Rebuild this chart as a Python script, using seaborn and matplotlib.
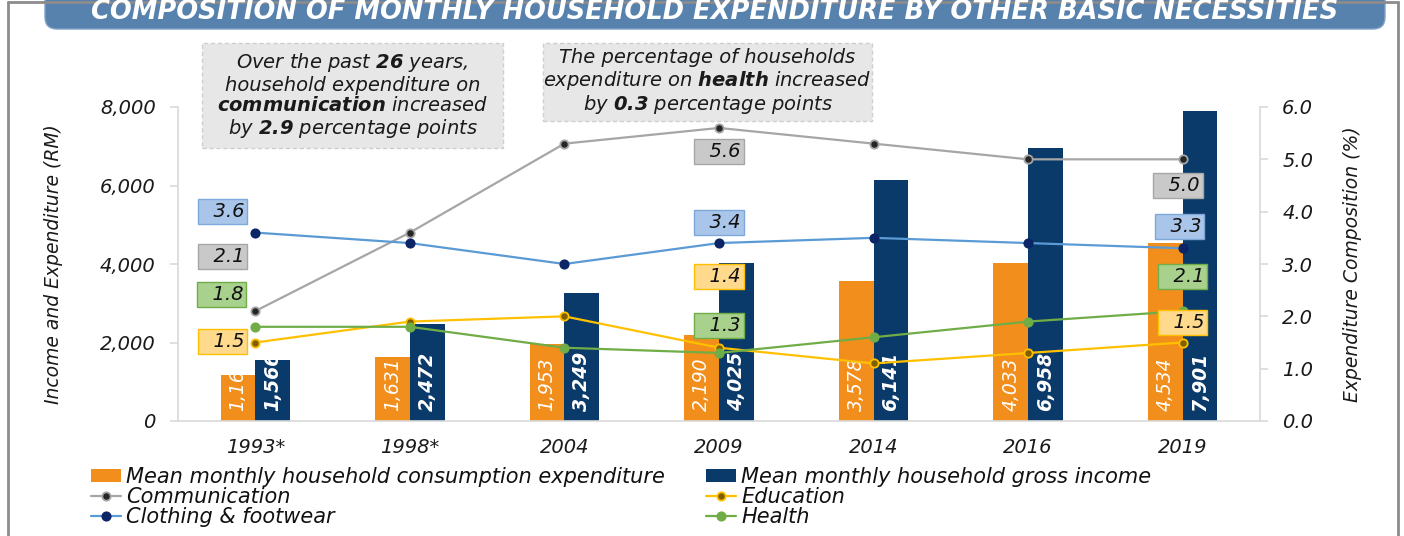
import numpy as np
import pandas as pd
import matplotlib
matplotlib.use("Agg")
import matplotlib.pyplot as plt
import seaborn as sns
from matplotlib.patches import FancyBboxPatch, Rectangle
from matplotlib.lines import Line2D
from matplotlib.ticker import FuncFormatter, FormatStrFormatter, MultipleLocator

# ---------------- data ----------------
years = ["1993*", "1998*", "2004", "2009", "2014", "2016", "2019"]
consumption = [1161, 1631, 1953, 2190, 3578, 4033, 4534]
income = [1566, 2472, 3249, 4025, 6141, 6958, 7901]
communication = [2.1, 3.6, 5.3, 5.6, 5.3, 5.0, 5.0]
education = [1.5, 1.9, 2.0, 1.4, 1.1, 1.3, 1.5]
clothing = [3.6, 3.4, 3.0, 3.4, 3.5, 3.4, 3.3]
health = [1.8, 1.8, 1.4, 1.3, 1.6, 1.9, 2.1]
bar_names = ["Mean monthly household consumption expenditure",
             "Mean monthly household gross income"]
line_names = ["Communication", "Education", "Clothing & footwear", "Health"]
labelled_years = ["1993*", "2009", "2019"]
title = "COMPOSITION OF MONTHLY HOUSEHOLD EXPENDITURE BY OTHER BASIC NECESSITIES"
note1 = ["Over the past $\\mathbf{26}$ years,", "household expenditure on",
         "$\\mathbf{communication}$ increased", "by $\\mathbf{2.9}$ percentage points"]
note2 = ["The percentage of households", "expenditure on $\\mathbf{health}$ increased",
         "by $\\mathbf{0.3}$ percentage points"]
ylabel_left = "Income and Expenditure (RM)"
ylabel_right = "Expenditure Composition (%)"

# ---------------- styles / layout ----------------
bar_colors = ["#F28E1C", "#0A3A69"]
line_style = {
    "Communication": dict(color="#A6A6A6", mfc="#262626", mec="#A6A6A6", box_fc="#C9C9C9", box_ec="#A6A6A6"),
    "Education": dict(color="#FFC000", mfc="#7F6000", mec="#FFC000", box_fc="#FFD98C", box_ec="#FFC000"),
    "Clothing & footwear": dict(color="#5B9BD5", mfc="#0B2566", mec="#0B2566", box_fc="#A9C6EA", box_ec="#7FA8DA"),
    "Health": dict(color="#70AD47", mfc="#70AD47", mec="#70AD47", box_fc="#A9D18E", box_ec="#70AD47"),
}
# value-label box positions (x offset from category, y in %), one per labelled year
label_layout = {
    "Communication": [(-0.21, 3.14), (0.0, 5.15), (-0.03, 4.50)],
    "Clothing & footwear": [(-0.21, 4.00), (0.0, 3.80), (-0.02, 3.71)],
    "Education": [(-0.21, 1.52), (0.0, 2.76), (0.0, 1.89)],
    "Health": [(-0.22, 2.42), (0.0, 1.83), (0.0, 2.76)],
}

sns.set_style("white")
plt.rcParams["font.family"] = ["DejaVu Sans"]
plt.rcParams["font.style"] = "italic"
plt.rcParams["mathtext.fontset"] = "custom"
plt.rcParams["mathtext.bf"] = "DejaVu Sans:bold:italic"
plt.rcParams["mathtext.rm"] = "DejaVu Sans:italic"
plt.rcParams["mathtext.it"] = "DejaVu Sans:italic"

W, H = 1404, 536
fig = plt.figure(figsize=(W / 100, H / 100), dpi=100)
fig.patch.set_facecolor("white")

def fx(px):
    return px / W

def fy(py):
    return 1 - py / H

ax = fig.add_axes([fx(178), fy(421), fx(1260) - fx(178), fy(107) - fy(421)])
ax2 = ax.twinx()

# ---------------- bars ----------------
bar_df = pd.DataFrame({
    "year": years * 2,
    "series": [bar_names[0]] * len(years) + [bar_names[1]] * len(years),
    "value": consumption + income,
})
sns.barplot(data=bar_df, x="year", y="value", hue="series", order=years,
            hue_order=bar_names, palette=bar_colors, saturation=1, width=0.45,
            linewidth=0, ax=ax, legend=False)

for container, vals, wt in zip(ax.containers, [consumption, income], ["normal", "bold"]):
    for bar, v in zip(container, vals):
        ax.annotate(f"{v:,}", xy=(bar.get_x() + bar.get_width() / 2, 0),
                    xytext=(0, 7), textcoords="offset points", rotation=90,
                    ha="center", va="bottom", color="white", fontsize=13.5,
                    fontstyle="italic", fontweight=wt)

# ---------------- lines ----------------
series_vals = {"Communication": communication, "Education": education,
               "Clothing & footwear": clothing, "Health": health}
line_handles = {}
for name in line_names:
    st = line_style[name]
    df = pd.DataFrame({"year": years, "pct": series_vals[name]})
    n0 = len(ax2.lines)
    sns.pointplot(data=df, x="year", y="pct", order=years, color=st["color"],
                  errorbar=None, markers="o", linestyles="-", ax=ax2,
                  linewidth=1.6, markersize=6, markeredgewidth=1.3,
                  markerfacecolor=st["mfc"], markeredgecolor=st["mec"])
    line_handles[name] = ax2.lines[n0]

# value labels
for name in line_names:
    st = line_style[name]
    vals = series_vals[name]
    for yr, (dx, yy) in zip(labelled_years, label_layout[name]):
        i = years.index(yr)
        ax2.text(i + dx, yy, f"  {vals[i]:.1f}", ha="center", va="center",
                 fontsize=14, color="#111111", zorder=10,
                 bbox=dict(boxstyle="square,pad=0.15", fc=st["box_fc"], ec=st["box_ec"], lw=1))

# ---------------- axes styling ----------------
ax.set_xlim(-0.5, len(years) - 0.5)
ax.set_ylim(0, 8000)
ax2.set_ylim(0, 6)
ax.yaxis.set_major_locator(MultipleLocator(2000))
ax.yaxis.set_major_formatter(FuncFormatter(lambda v, p: f"{v:,.0f}"))
ax2.yaxis.set_major_locator(MultipleLocator(1))
ax2.yaxis.set_major_formatter(FormatStrFormatter("%.1f"))

grey = "#D9D9D9"
for s in ["top", "right"]:
    ax.spines[s].set_visible(False)
for s in ["top", "left", "bottom"]:
    ax2.spines[s].set_visible(False)
ax.spines["left"].set_color(grey)
ax.spines["bottom"].set_color(grey)
ax2.spines["right"].set_color(grey)
for sp in [ax.spines["left"], ax.spines["bottom"], ax2.spines["right"]]:
    sp.set_linewidth(1.2)

ax.tick_params(axis="y", direction="out", length=6, width=1.2, color=grey,
               labelsize=14, pad=10, labelcolor="#1a1a1a")
ax2.tick_params(axis="y", direction="out", length=6, width=1.2, color=grey,
                labelsize=14, pad=10, labelcolor="#1a1a1a")
ax.tick_params(axis="x", length=0, labelsize=14, pad=12, labelcolor="#1a1a1a")
ax.set_xlabel("")
ax2.set_xlabel("")
ax.set_ylabel(ylabel_left, fontsize=13.5, color="#1a1a1a")
ax2.set_ylabel(ylabel_right, fontsize=13.5, color="#1a1a1a")
ax.yaxis.set_label_coords((63 - 178) / (1260 - 178), 0.5)
ax2.yaxis.set_label_coords((1343 - 178) / (1260 - 178), 0.5)
ax.grid(False)
ax2.grid(False)

# ---------------- legends ----------------
bar_handles = [ax.containers[0][0], ax.containers[1][0]]
leg_kw = dict(loc="upper left", frameon=False, fontsize=15, handlelength=1.45,
              handletextpad=0.25, labelspacing=0.0, borderpad=0, borderaxespad=0,
              handleheight=0.6)
leg1 = fig.legend([bar_handles[0], line_handles["Communication"], line_handles["Clothing & footwear"]],
                  [bar_names[0], "Communication", "Clothing & footwear"],
                  bbox_to_anchor=(fx(91), fy(467)), **leg_kw)
leg2 = fig.legend([bar_handles[1], line_handles["Education"], line_handles["Health"]],
                  [bar_names[1], "Education", "Health"],
                  bbox_to_anchor=(fx(706), fy(467)), **leg_kw)
for lg in (leg1, leg2):
    for t in lg.get_texts():
        t.set_color("#111111")

# ---------------- notes ----------------
for (x0, y0, x1, y1), lines in [((202, 43, 503, 148), note1), ((543, 43, 872, 121), note2)]:
    fig.patches.append(Rectangle((fx(x0), fy(y1)), fx(x1) - fx(x0), fy(y0) - fy(y1),
                                 transform=fig.transFigure, fc="#E7E7E7", ec="#CFCFCF",
                                 lw=1, ls=(0, (3, 2)), zorder=0))
    fig.text(fx((x0 + x1) / 2), fy((y0 + y1) / 2), "\n".join(lines), ha="center", va="center",
             fontsize=14, color="#1a1a1a", linespacing=1.1, multialignment="center")

# ---------------- frame & banner ----------------
frame_c = "#8C8C8C"
fig.add_artist(Line2D([fx(8), fx(8)], [0, fy(2)], color=frame_c, lw=2, transform=fig.transFigure))
fig.add_artist(Line2D([fx(1398), fx(1398)], [0, fy(2)], color=frame_c, lw=2, transform=fig.transFigure))
fig.add_artist(Line2D([fx(8), fx(1398)], [fy(2), fy(2)], color=frame_c, lw=2, transform=fig.transFigure))
banner = FancyBboxPatch((0.45, (H - 29) / 100), 13.40, 0.8,
                        boxstyle="round,pad=0,rounding_size=0.12",
                        transform=fig.dpi_scale_trans, fc="#5782AD", ec="#7FA3C8", lw=1)
fig.add_artist(banner)
fig.text(fx(715), fy(19), title, ha="center", va="baseline", color="white",
         fontsize=18.5, fontweight="bold", fontstyle="italic")

fig.savefig("out.png", dpi=100, facecolor="white")
